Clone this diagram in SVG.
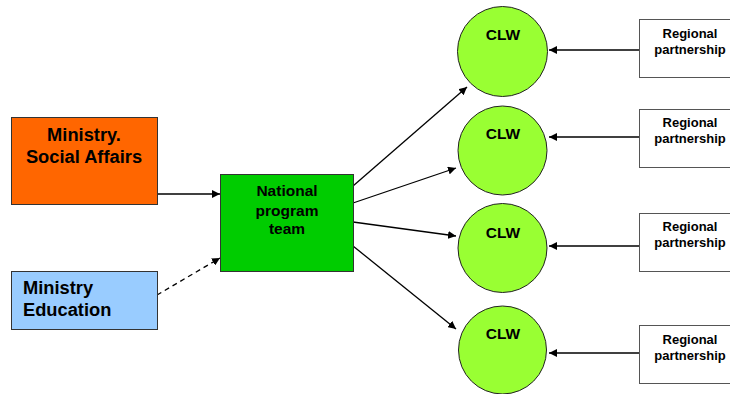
<svg xmlns="http://www.w3.org/2000/svg" width="730" height="394" viewBox="0 0 730 394">
<style>
text{font-family:"Liberation Sans",Arial,sans-serif;font-weight:bold;fill:#000}
.box{stroke:#333;stroke-width:1}
.clw{fill:#99FF33;stroke:#222;stroke-width:1}
.reg{fill:#fff;stroke:#555;stroke-width:1}
.c{stroke:#000;stroke-width:1.3;fill:none;marker-end:url(#ah)}
.big{font-size:18.3px}
.mid{font-size:15.5px}
.sm{font-size:13px}
</style>
<defs>
<marker id="ah" viewBox="0 0 10 10" refX="10" refY="5" markerWidth="8" markerHeight="8" markerUnits="userSpaceOnUse" orient="auto">
<path d="M0,0 L10,5 L0,10 z" fill="#000"/>
</marker>
</defs>
<rect width="730" height="394" fill="#fff"/>
<g id="connectors">
<line class="c" x1="157" y1="194" x2="220" y2="194"/>
<line class="c" x1="157" y1="295" x2="220" y2="258" stroke-dasharray="5,4"/>
<line class="c" x1="353" y1="186" x2="467" y2="87"/>
<line class="c" x1="353" y1="203" x2="456" y2="168"/>
<line class="c" x1="353" y1="222" x2="456" y2="236"/>
<line class="c" x1="353" y1="246" x2="456" y2="329"/>
<line class="c" x1="639" y1="50" x2="549" y2="50"/>
<line class="c" x1="639" y1="137" x2="549" y2="137"/>
<line class="c" x1="639" y1="246" x2="549" y2="246"/>
<line class="c" x1="639" y1="353" x2="549" y2="353"/>
</g>
<g id="social">
<rect class="box" x="11.5" y="117.5" width="146" height="87" fill="#FF6600"/>
<text class="big" x="84" y="141" text-anchor="middle">Ministry.</text>
<text class="big" x="84" y="163" text-anchor="middle">Social Affairs</text>
</g>
<g id="education">
<rect class="box" x="11.5" y="271.5" width="146" height="58" fill="#99CCFF"/>
<text class="big" x="23" y="294">Ministry</text>
<text class="big" x="23" y="316">Education</text>
</g>
<g id="national">
<rect class="box" x="220.5" y="174.5" width="133" height="97" fill="#00CC00"/>
<text class="mid" x="287" y="196" text-anchor="middle">National</text>
<text class="mid" x="287" y="216" text-anchor="middle">program</text>
<text class="mid" x="287" y="234" text-anchor="middle">team</text>
</g>
<g id="clw1">
<circle class="clw" cx="502.5" cy="51.5" r="45"/>
<text class="mid" x="503" y="40" text-anchor="middle">CLW</text>
</g>
<g id="clw2">
<circle class="clw" cx="502.5" cy="150.5" r="44.5"/>
<text class="mid" x="503" y="139" text-anchor="middle">CLW</text>
</g>
<g id="clw3">
<circle class="clw" cx="502.5" cy="248" r="44.5"/>
<text class="mid" x="503" y="238" text-anchor="middle">CLW</text>
</g>
<g id="clw4">
<circle class="clw" cx="502.5" cy="350" r="44"/>
<text class="mid" x="503" y="339" text-anchor="middle">CLW</text>
</g>
<g id="reg1">
<rect class="reg" x="639.5" y="19.5" width="100" height="58"/>
<text class="sm" x="690" y="38" text-anchor="middle">Regional</text>
<text class="sm" x="690" y="54" text-anchor="middle">partnership</text>
</g>
<g id="reg2">
<rect class="reg" x="639.5" y="109.5" width="100" height="58"/>
<text class="sm" x="690" y="127" text-anchor="middle">Regional</text>
<text class="sm" x="690" y="143" text-anchor="middle">partnership</text>
</g>
<g id="reg3">
<rect class="reg" x="639.5" y="213.5" width="100" height="58"/>
<text class="sm" x="690" y="231" text-anchor="middle">Regional</text>
<text class="sm" x="690" y="247" text-anchor="middle">partnership</text>
</g>
<g id="reg4">
<rect class="reg" x="639.5" y="325.5" width="100" height="58"/>
<text class="sm" x="690" y="344" text-anchor="middle">Regional</text>
<text class="sm" x="690" y="360" text-anchor="middle">partnership</text>
</g>
</svg>
